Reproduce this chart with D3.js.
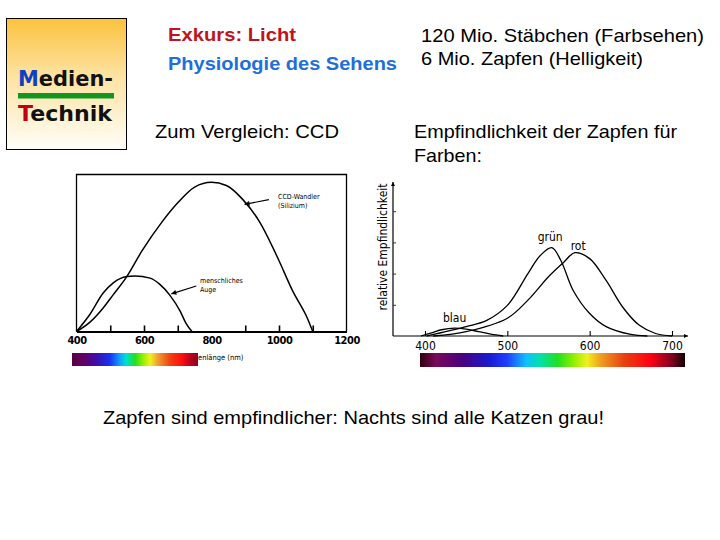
<!DOCTYPE html>
<html><head><meta charset="utf-8">
<script src="https://cdn.jsdelivr.net/npm/d3@7"></script>
<style>body{margin:0;background:#fff}svg{display:block}</style>
</head><body>
<script>
// ---- Data: left chart (CCD vs human eye), wavelength nm / relative sensitivity
const ccdNm   = [400,440,479,509,549,593,654,700,750,800,844,893,942,996,1040,1085,1100];
const ccdVal  = [0,0.06,0.15,0.235,0.35,0.51,0.70,0.82,0.92,0.95,0.93,0.84,0.70,0.47,0.26,0.08,0];
const eyeNm   = [400,440,479,509,549,573,618,647,677,707,725,742];
const eyeVal  = [0,0.11,0.245,0.31,0.35,0.354,0.34,0.30,0.23,0.13,0.05,0];
const leftTickLabels = [400,600,800,1000,1200];
const leftTickMarks  = [500,600,700,900,1000,1100];

// ---- Data: right chart (cone sensitivity)
const blauNm  = [395,410,420,436,450,465,480,495];
const blauVal = [0,0.12,0.2,0.25,0.22,0.14,0.06,0];
const gruenNm  = [402,450,475,500,525,540,554,565,580,600,620,650,670];
const gruenVal = [0,0.3,0.5,0.98,2.0,2.58,2.83,2.42,1.46,0.72,0.3,0.05,0];
const rotNm  = [410,450,500,525,550,568,582,600,620,640,660,680,700];
const rotVal = [0,0.14,0.57,1.15,1.9,2.35,2.67,2.48,1.78,0.93,0.35,0.08,0];
const rightTickLabels = [400,500,600,700];
const rightYTicks = [1,2,3,4];

const svg = d3.select("body").append("svg").attr("width",720).attr("height",540);
const defs = svg.append("defs");

// logo gradient
const lg = defs.append("linearGradient").attr("id","logoGrad").attr("x1",0).attr("y1",0).attr("x2",0).attr("y2",1);
lg.append("stop").attr("offset","0").attr("stop-color","#fbc23e");
lg.append("stop").attr("offset","0.45").attr("stop-color","#fde3a4");
lg.append("stop").attr("offset","1").attr("stop-color","#fffef8");

function spectrum(id, stops){
  const g = defs.append("linearGradient").attr("id",id);
  stops.forEach(s=>g.append("stop").attr("offset",s[0]).attr("stop-color",s[1]));
}
spectrum("specL",[[0,"#5a0040"],[0.1,"#62006a"],[0.2,"#3a10b0"],[0.3,"#1a30f0"],[0.38,"#10a0ff"],[0.43,"#00e0d0"],[0.5,"#20e020"],[0.57,"#a0f000"],[0.62,"#f0f020"],[0.68,"#f0a030"],[0.78,"#f04010"],[0.87,"#ff1010"],[0.95,"#b00020"],[1,"#900020"]]);
spectrum("specR",[[0,"#300010"],[0.06,"#7a0a5a"],[0.16,"#4a0080"],[0.26,"#1a1ad0"],[0.33,"#2040ff"],[0.4,"#10c0ff"],[0.45,"#00e0b0"],[0.52,"#20e020"],[0.58,"#90f000"],[0.63,"#f0f020"],[0.68,"#f0a020"],[0.77,"#e84010"],[0.87,"#ff0010"],[0.95,"#800020"],[1,"#100000"]]);

defs.append("marker").attr("id","arr").attr("viewBox","0 0 10 10").attr("refX",10).attr("refY",5)
  .attr("markerWidth",7).attr("markerHeight",5).attr("markerUnits","userSpaceOnUse").attr("orient","auto")
  .append("path").attr("d","M0,0L10,5L0,10Z").attr("fill","#000");
defs.append("marker").attr("id","arrAx").attr("viewBox","0 0 10 10").attr("refX",10).attr("refY",5)
  .attr("markerWidth",6).attr("markerHeight",4).attr("markerUnits","userSpaceOnUse").attr("orient","auto")
  .append("path").attr("d","M0,0L10,5L0,10Z").attr("fill","#000");

// ---- Logo
svg.append("rect").attr("x",6.5).attr("y",18.5).attr("width",120).attr("height",131)
  .attr("fill","url(#logoGrad)").attr("stroke","#000").attr("stroke-width",1);
const lt1 = svg.append("text").attr("x",18).attr("y",86).attr("font-family","DejaVu Sans").attr("font-weight","bold").attr("font-size",21)
  .attr("textLength",95).attr("lengthAdjust","spacingAndGlyphs");
lt1.append("tspan").attr("fill","#1040c0").text("M");
lt1.append("tspan").attr("fill","#111").text("edien-");
svg.append("rect").attr("x",18).attr("y",93).attr("width",96).attr("height",5.5).attr("fill","#12961e");
const lt2 = svg.append("text").attr("x",18).attr("y",121).attr("font-family","DejaVu Sans").attr("font-weight","bold").attr("font-size",21)
  .attr("textLength",94).attr("lengthAdjust","spacingAndGlyphs");
lt2.append("tspan").attr("fill","#c00010").text("T");
lt2.append("tspan").attr("fill","#111").text("echnik");

// ---- Slide texts
function txt(x,y,s,opt){
  const t = svg.append("text").attr("x",x).attr("y",y).text(s)
    .attr("font-family","Liberation Sans, Arial, sans-serif").attr("font-size",opt.size||18)
    .attr("fill",opt.fill||"#000").attr("font-weight",opt.bold?"bold":"normal");
  if(opt.len) t.attr("textLength",opt.len).attr("lengthAdjust","spacingAndGlyphs");
  return t;
}
txt(168,41,"Exkurs: Licht",{bold:true,fill:"#c0141c",len:128,size:18});
txt(168,70,"Physiologie des Sehens",{bold:true,fill:"#1e6fd9",len:229,size:18});
txt(421,42,"120 Mio. Stäbchen (Farbsehen)",{len:283,size:19});
txt(421,65,"6 Mio. Zapfen (Helligkeit)",{len:222,size:19});
txt(155,138,"Zum Vergleich: CCD",{len:184,size:19});
txt(414,138,"Empfindlichkeit der Zapfen für",{len:263,size:19});
txt(414,162,"Farben:",{len:68,size:19});
txt(103,424,"Zapfen sind empfindlicher: Nachts sind alle Katzen grau!",{len:501,size:19});

// ---- Left chart
const xL = d3.scaleLinear().domain([400,1200]).range([76.5,346.5]);
const yL = d3.scaleLinear().domain([0,1]).range([331.5,174.5]);
const gL = svg.append("g");
// frame
gL.append("path").attr("d",`M${xL(400)},${yL(0)}V${yL(1)}H${xL(1200)}V${yL(0)}`)
  .attr("fill","none").attr("stroke","#000").attr("stroke-width",1.3);
// bottom axis with labels
const axL = d3.axisBottom(xL).tickValues(leftTickLabels).tickSize(0).tickPadding(5).tickFormat(d3.format("d"));
const axLg = gL.append("g").attr("transform",`translate(0,${yL(0)})`).call(axL);
axLg.select(".domain").attr("stroke","#000").attr("stroke-width",2);
axLg.selectAll("text").attr("font-family","Liberation Sans Narrow, DejaVu Sans Condensed, sans-serif")
  .attr("font-weight","bold").attr("font-size",11).attr("fill","#000").attr("letter-spacing","-0.5");
// inner tick marks
const axLm = d3.axisBottom(xL).tickValues(leftTickMarks).tickSizeInner(-6).tickSizeOuter(0).tickFormat("");
const axLmg = gL.append("g").attr("transform",`translate(0,${yL(0)})`).call(axLm);
axLmg.select(".domain").remove();
axLmg.selectAll("line").attr("stroke","#000").attr("stroke-width",1.6);

const lineL = d3.line().x(d=>xL(d[0])).y(d=>yL(d[1])).curve(d3.curveMonotoneX);
gL.append("path").attr("d",lineL(d3.zip(ccdNm,ccdVal))).attr("fill","none").attr("stroke","#000").attr("stroke-width",1.5);
gL.append("path").attr("d",lineL(d3.zip(eyeNm,eyeVal))).attr("fill","none").attr("stroke","#000").attr("stroke-width",1.5);

// annotations
const smallFont = "Liberation Sans Narrow, DejaVu Sans Condensed, sans-serif";
gL.append("line").attr("x1",xL(970)).attr("y1",yL(0.84)).attr("x2",xL(898)).attr("y2",yL(0.81))
  .attr("stroke","#000").attr("stroke-width",1.2).attr("marker-end","url(#arr)");
gL.append("text").attr("x",278).attr("y",199).attr("font-family",smallFont).attr("font-size",7).text("CCD-Wandler");
gL.append("text").attr("x",278).attr("y",208).attr("font-family",smallFont).attr("font-size",7).text("(Silizium)");
gL.append("line").attr("x1",xL(755)).attr("y1",yL(0.29)).attr("x2",xL(681)).attr("y2",yL(0.24))
  .attr("stroke","#000").attr("stroke-width",1.2).attr("marker-end","url(#arr)");
gL.append("text").attr("x",200).attr("y",283).attr("font-family",smallFont).attr("font-size",7).text("menschliches");
gL.append("text").attr("x",200).attr("y",292).attr("font-family",smallFont).attr("font-size",7).text("Auge");

// spectrum bar left
svg.append("rect").attr("x",72).attr("y",353).attr("width",126).attr("height",13).attr("fill","url(#specL)");
svg.append("text").attr("x",198).attr("y",360).attr("font-family",smallFont).attr("font-size",7.5).text("enlänge  (nm)");

// ---- Right chart
const xR = d3.scaleLinear().domain([400,700]).range([425,672]);
const yR = d3.scaleLinear().domain([0,5]).range([336,180]);
const gR = svg.append("g");
const x0 = 393, xEnd = 688, yTop = 182;
gR.append("line").attr("x1",x0).attr("y1",yR(0)).attr("x2",x0).attr("y2",yTop)
  .attr("stroke","#000").attr("stroke-width",1.2).attr("marker-end","url(#arrAx)");
gR.append("line").attr("x1",x0).attr("y1",yR(0)).attr("x2",xEnd).attr("y2",yR(0))
  .attr("stroke","#000").attr("stroke-width",1.2).attr("marker-end","url(#arrAx)");
const axR = d3.axisBottom(xR).tickValues(rightTickLabels).tickSizeInner(-5).tickSizeOuter(0).tickPadding(5);
const axRg = gR.append("g").attr("transform",`translate(0,${yR(0)})`).call(axR);
axRg.select(".domain").remove();
axRg.selectAll("line").attr("stroke","#000").attr("stroke-width",1.1);
axRg.selectAll("text").attr("font-family","DejaVu Sans Condensed, sans-serif").attr("font-size",12).attr("fill","#000");
const ayR = d3.axisRight(yR).tickValues(rightYTicks).tickSize(3).tickFormat("");
const ayRg = gR.append("g").attr("transform",`translate(${x0},0)`).call(ayR);
ayRg.select(".domain").remove();
ayRg.selectAll("line").attr("stroke","#333").attr("stroke-width",1);

gR.append("text").attr("transform","translate(387,247) rotate(-90)").attr("text-anchor","middle")
  .attr("font-family","DejaVu Sans Condensed, sans-serif").attr("font-size",11.5)
  .attr("textLength",127).attr("lengthAdjust","spacingAndGlyphs").text("relative Empfindlichkeit");

const lineR = d3.line().x(d=>xR(d[0])).y(d=>yR(d[1])).curve(d3.curveCatmullRom.alpha(0.5));
[[blauNm,blauVal],[gruenNm,gruenVal],[rotNm,rotVal]].forEach(([n,v])=>{
  gR.append("path").attr("d",lineR(d3.zip(n,v))).attr("fill","none").attr("stroke","#000").attr("stroke-width",1.3);
});
const lblFont = "DejaVu Sans Condensed, sans-serif";
gR.append("text").attr("x",xR(436)).attr("y",yR(0.45)).attr("text-anchor","middle").attr("font-family",lblFont).attr("font-size",12).text("blau");
gR.append("text").attr("x",xR(552)).attr("y",yR(3.05)).attr("text-anchor","middle").attr("font-family",lblFont).attr("font-size",12).text("grün");
gR.append("text").attr("x",xR(586)).attr("y",yR(2.75)).attr("text-anchor","middle").attr("font-family",lblFont).attr("font-size",12).text("rot");

// spectrum bar right
svg.append("rect").attr("x",420).attr("y",353).attr("width",265).attr("height",14).attr("fill","url(#specR)");
</script>
</body></html>
